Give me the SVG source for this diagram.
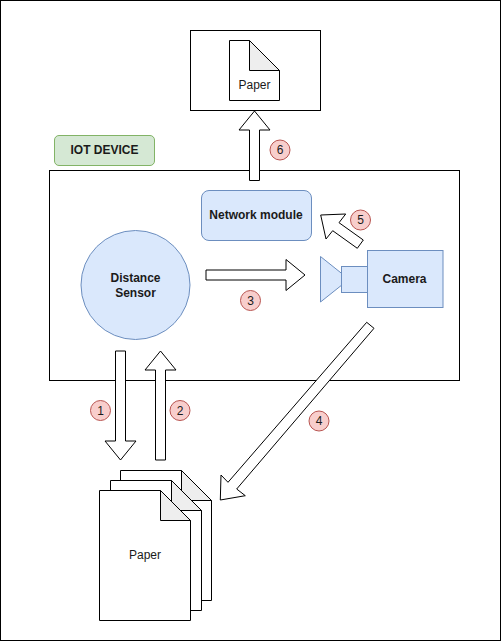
<svg xmlns="http://www.w3.org/2000/svg" width="501" height="641" viewBox="0 0 501 641">
<style>
text{font-family:"Liberation Sans",Arial,Helvetica,sans-serif;font-size:12px;fill:#1a1a1a;text-anchor:middle;dominant-baseline:central}
.b{font-weight:bold}
.k{fill:#fff;stroke:#000;stroke-width:1}
.f{fill:#eeeeee;stroke:#000;stroke-width:1}
.blue{fill:#dae8fc;stroke:#6c8ebf;stroke-width:1}
.badge{fill:#f8cecc;stroke:#b85450;stroke-width:1}
.a{fill:#fff;stroke:#000;stroke-width:1;stroke-linejoin:miter}
</style>
<rect id="page-frame" x="0.5" y="0.5" width="500" height="640" fill="#fff" stroke="#000"/>
<g id="output-box"><rect class="k" x="190.5" y="30.5" width="130" height="80"/></g>
<g id="output-paper">
<path class="k" d="M229.5 40.5H249.5L279.5 70.5V100.5H229.5Z"/>
<path class="f" d="M249.5 40.5L279.5 70.5H249.5Z"/>
<text x="254.5" y="85">Paper</text>
</g>
<g id="iot-device-box"><rect class="k" x="49.5" y="170.5" width="410" height="210"/></g>
<g id="iot-device-label">
<rect x="54.5" y="135.5" width="100" height="30" rx="4.5" fill="#d5e8d4" stroke="#82b366"/>
<text class="b" x="104.5" y="150">IOT DEVICE</text>
</g>
<g id="distance-sensor">
<circle class="blue" cx="135.5" cy="285" r="54.5"/>
<text class="b" x="135.5" y="278">Distance</text>
<text class="b" x="135.5" y="292.5">Sensor</text>
</g>
<g id="network-module">
<rect class="blue" x="201.5" y="190.5" width="110" height="50" rx="7.5"/>
<text class="b" x="256" y="215">Network module</text>
</g>
<g id="camera">
<path class="blue" d="M320.5 256.500L349 279.300L320.500 302Z"/>
<rect class="blue" x="341.500" y="266.500" width="26" height="26"/>
<rect class="blue" x="367.500" y="250.500" width="75.500" height="57" stroke-width="1.200"/>
<text class="b" x="404.500" y="279">Camera</text>
</g>
<g id="paper-stack">
<path class="k" d="M120.500 470.500H181.500L211.500 500.500V600.500H120.500Z"/>
<path class="f" d="M181.500 470.500L211.500 500.500H181.500Z"/>
<path class="k" d="M110.500 480.500H171.500L201.500 510.500V610.500H110.500Z"/>
<path class="f" d="M171.500 480.500L201.500 510.500H171.500Z"/>
<path class="k" d="M99.500 490.500H160.500L190.500 520.500V620.500H99.500Z"/>
<path class="f" d="M160.500 490.500L190.500 520.500H160.500Z"/>
<text x="145" y="555">Paper</text>
</g>
<g id="connectors">
<path class="a" d="M115.500 351H125.500V441H136L120.500 460L105 441H115.500Z"/>
<path class="a" d="M155.500 460H165.500V370H176L160.500 351L145 370H155.500Z"/>
<path class="a" d="M206 270H286V259.500L305 275L286 290.500V280H206Z"/>
<path class="a" d="M366.700 322.300L374 328.300L236.700 489L245.300 495.700L220.300 500L221 475L228 482.300Z"/>
<path class="a" d="M363.300 240L357.300 248.300L332.700 230.700L326 239L320.700 215L345.700 214L339 222.700Z"/>
<path class="a" d="M249.500 180.500H259.500V130H270L254.500 111L239 130H249.500Z"/>
</g>
<g id="step-1"><circle class="badge" cx="100.500" cy="410.500" r="10"/><text x="100.500" y="410.500">1</text></g>
<g id="step-2"><circle class="badge" cx="180" cy="410.500" r="10"/><text x="180" y="410.500">2</text></g>
<g id="step-3"><circle class="badge" cx="250.500" cy="300.500" r="10"/><text x="250.500" y="300.500">3</text></g>
<g id="step-4"><circle class="badge" cx="319" cy="421" r="10"/><text x="319" y="421">4</text></g>
<g id="step-5"><circle class="badge" cx="360.500" cy="220" r="10"/><text x="360.500" y="220">5</text></g>
<g id="step-6"><circle class="badge" cx="280" cy="150" r="10"/><text x="280" y="150">6</text></g>
</svg>
